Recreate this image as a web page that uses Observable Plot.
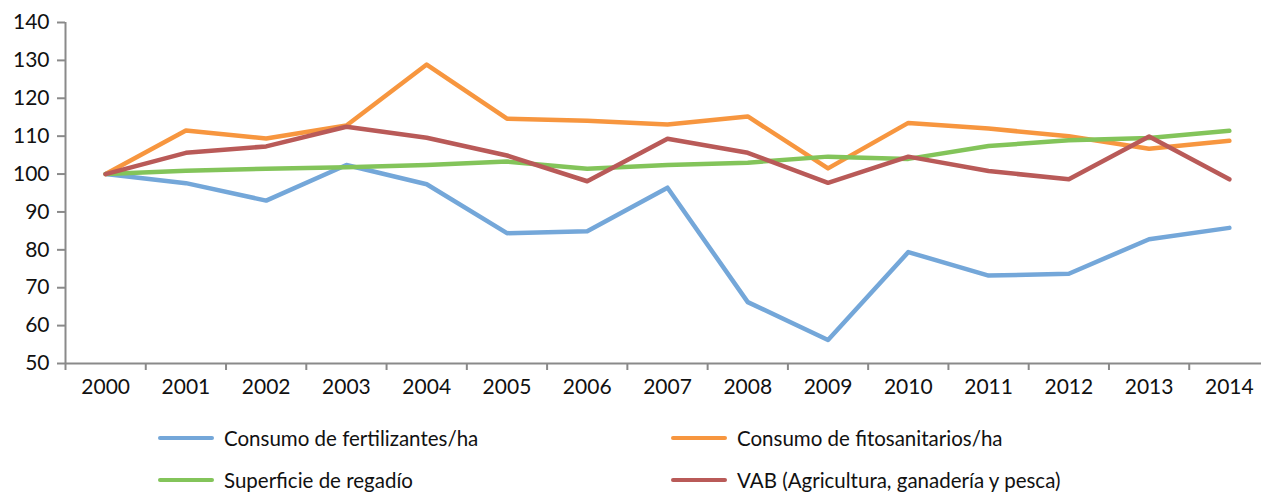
<!DOCTYPE html>
<html>
<head>
<meta charset="utf-8">
<script src="https://cdn.jsdelivr.net/npm/d3@7"></script>
<script src="https://cdn.jsdelivr.net/npm/@observablehq/plot@0.6"></script>
<style>
  html, body { margin: 0; padding: 0; background: #fff; }
  #wrap { position: relative; width: 1261px; height: 492px; overflow: hidden; font-family: Lato, "Open Sans", sans-serif; }
  #chart { position: absolute; left: 0; top: 0; }
  .leg { position: absolute; display: flex; align-items: center; font-size: 20.5px; color: #111; white-space: nowrap; }
  .sw { width: 56px; height: 4.5px; margin-right: 10px; border-radius: 2px; }
</style>
</head>
<body>
<div id="wrap"><div id="chart"></div><div id="legend"></div></div>
<script>
const years = [2000,2001,2002,2003,2004,2005,2006,2007,2008,2009,2010,2011,2012,2013,2014];
const seriesNames = ["Consumo de fertilizantes/ha", "Consumo de fitosanitarios/ha", "Superficie de regadío", "VAB (Agricultura, ganadería y pesca)"];
const fertilizantes = [100, 97.6, 93.0, 102.4, 97.3, 84.4, 84.9, 96.4, 66.2, 56.2, 79.4, 73.2, 73.7, 82.8, 85.8];
const fitosanitarios = [100, 111.5, 109.4, 112.8, 128.9, 114.6, 114.1, 113.1, 115.2, 101.5, 113.5, 112.0, 110.0, 106.7, 108.8];
const regadio = [100, 100.9, 101.4, 101.8, 102.4, 103.3, 101.4, 102.4, 103.0, 104.6, 104.0, 107.4, 108.9, 109.5, 111.4];
const vab = [100, 105.6, 107.3, 112.5, 109.6, 104.9, 98.1, 109.3, 105.6, 97.7, 104.6, 100.8, 98.6, 109.9, 98.6];
const colors = ["#74a7d9", "#f7963f", "#83c45a", "#b95a58"];
const yTicks = [50,60,70,80,90,100,110,120,130,140];

const allSeries = [fertilizantes, fitosanitarios, regadio, vab];
const data = allSeries.flatMap((vals, i) => vals.map((v, j) => ({year: years[j], value: v, series: seriesNames[i]})));
const bounds = d3.range(years[0] - 0.5, years[years.length - 1] + 1, 1);

const H = 410;
const chart = Plot.plot({
  width: 1261,
  height: H,
  marginTop: 22,
  marginBottom: H - 363,
  marginLeft: 65,
  marginRight: 0,
  style: { fontFamily: "Lato, 'Open Sans', sans-serif", background: "transparent", color: "#111" },
  x: { type: "linear", domain: [years[0] - 0.5, years[years.length - 1] + 0.5], range: [65, 1269], label: null },
  y: { domain: [50, 140], label: null },
  color: { domain: seriesNames, range: colors },
  marks: [
    Plot.axisY({ ticks: yTicks, tickSize: 8, tickPadding: 8, fontSize: 21, stroke: "#8a8a8a", strokeWidth: 2, fill: "#111", label: null }),
    Plot.axisX({ ticks: bounds, tickFormat: () => "", tickSize: 7, stroke: "#8a8a8a", strokeWidth: 2, label: null }),
    Plot.axisX({ ticks: years, tickFormat: d => String(d), tickSize: 0, tickPadding: 16, fontSize: 21, fill: "#111", label: null }),
    Plot.ruleX([years[0] - 0.5], { stroke: "#8a8a8a", strokeWidth: 2 }),
    Plot.ruleY([50], { stroke: "#8a8a8a", strokeWidth: 2 }),
    Plot.line(data, { x: "year", y: "value", z: "series", stroke: "series", strokeWidth: 4.5, strokeLinejoin: "round", strokeLinecap: "round" })
  ]
});
document.getElementById("chart").appendChild(chart);

const legPos = [
  { left: 158, top: 438 }, { left: 671, top: 438 },
  { left: 158, top: 480 }, { left: 671, top: 480 }
];
const legend = document.getElementById("legend");
seriesNames.forEach((name, i) => {
  const d = document.createElement("div");
  d.className = "leg";
  d.style.left = legPos[i].left + "px";
  d.style.top = (legPos[i].top - 12) + "px";
  d.style.height = "24px";
  const sw = document.createElement("div");
  sw.className = "sw";
  sw.style.background = colors[i];
  const t = document.createElement("span");
  t.textContent = name;
  d.appendChild(sw); d.appendChild(t);
  legend.appendChild(d);
});
</script>
</body>
</html>
